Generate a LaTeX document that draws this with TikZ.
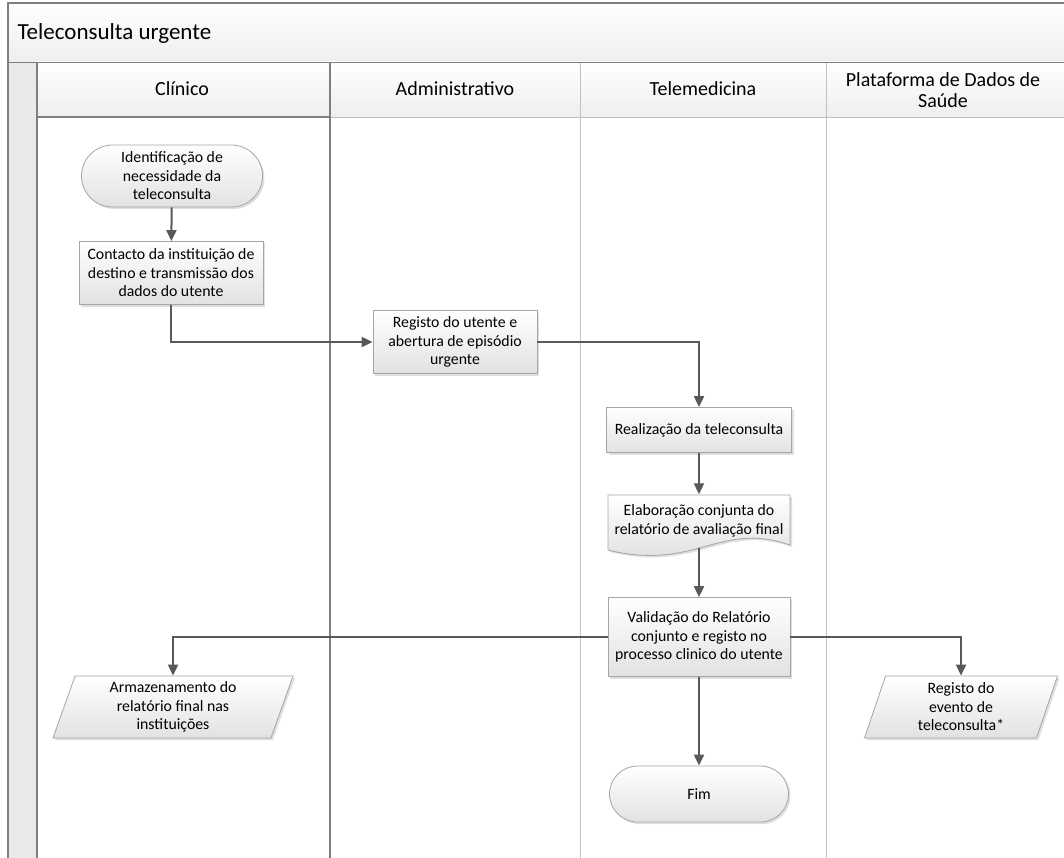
\documentclass[tikz,border=0pt]{standalone}
\usepackage{fontspec}
\setmainfont{Carlito}
\usetikzlibrary{shapes.geometric,shapes.misc,shadows,arrows.meta}

\definecolor{lanegray}{HTML}{7F7F7F}
\definecolor{lightlane}{HTML}{C0C0C0}
\definecolor{boxline}{HTML}{A5A5A5}
\definecolor{arrowgray}{HTML}{595959}
\definecolor{shadegray}{HTML}{E2E2E2}
\definecolor{stripgray}{HTML}{EAEAEA}

\newcommand{\flowfont}{\fontsize{15.8}{18.5}\selectfont}
\newcommand{\headfont}{\fontsize{20}{21}\selectfont}
\newcommand{\titlefont}{\fontsize{23}{26}\selectfont}

\tikzset{
  box/.style={draw=boxline, line width=0.8pt, top color=white, bottom color=shadegray,
    drop shadow={opacity=0.25, shadow xshift=2pt, shadow yshift=-2pt},
    align=center, font=\flowfont, inner sep=2pt},
  procbox/.style={box, rectangle},
  termbox/.style={box, rounded rectangle},
  iobox/.style={box, trapezium, trapezium left angle=68, trapezium right angle=112,
    trapezium stretches body},
  flow/.style={draw=arrowgray, line width=2pt, -{Triangle[length=11pt,width=10pt]}}
}

\begin{document}
\begin{tikzpicture}[x=1pt,y=-1pt]
\useasboundingbox (0,0) rectangle (1064,858);
\clip (0,0) rectangle (1064,858);

%% pool and lanes
\fill[white] (0,0) rectangle (1064,858);
\shade[top color=white, bottom color=stripgray!80] (8,3) rectangle (1070,62);
\shade[top color=white, bottom color=stripgray!80] (37,62) rectangle (1070,117);
\fill[stripgray] (8,62) rectangle (37,870);
\draw[lightlane] (37,117) -- (1070,117);
\draw[lightlane] (580,62) -- (580,870);
\draw[lightlane] (826,62) -- (826,870);
\draw[lanegray, line width=1.2pt] (8,3) rectangle (1070,870);
\draw[lanegray] (8,62) -- (1070,62);
\draw[lanegray, line width=1.2pt] (37,62) -- (37,870);
\draw[lanegray, line width=1.2pt] (330,62) -- (330,870);
\draw[lanegray, line width=1.2pt] (37,117) -- (330,117);

%% titles
\node[anchor=west, font=\titlefont] (pool) at (14,33) {Teleconsulta urgente};
\node[font=\headfont] (clin) at (182,89) {Clínico};
\node[font=\headfont] (admin) at (455,89) {Administrativo};
\node[font=\headfont] (tele) at (703,89) {Telemedicina};
\node[font=\headfont, align=center] (plat) at (943,90) {Plataforma de Dados de\\Saúde};

%% steps
\node[termbox, minimum width=185pt, minimum height=62pt] (ident) at (172,176)
  {Identificação de\\necessidade da\\teleconsulta};
\node[procbox, minimum width=184pt, minimum height=63pt] (contacto) at (171,273)
  {Contacto da instituição de\\destino e transmissão dos\\dados do utente};
\node[procbox, minimum width=164pt, minimum height=63pt] (registo) at (455,342)
  {Registo do utente e\\abertura de episódio\\urgente};
\node[procbox, minimum width=185pt, minimum height=45pt] (realiz) at (699,430)
  {Realização da teleconsulta};
\path[box] (608,495) -- (790,495) -- (790,545)
  .. controls (752,532) and (730,540) .. (699,548)
  .. controls (668,557) and (640,558) .. (608,550) -- cycle;
\node[align=center, font=\flowfont, minimum width=182pt, minimum height=53pt] (elab) at (699,521)
  {Elaboração conjunta do\\relatório de avaliação final};
\node[procbox, minimum width=182pt, minimum height=79pt] (valid) at (699,637)
  {Validação do Relatório\\conjunto e registo no\\processo clinico do utente};
\node[iobox, minimum width=240pt, minimum height=62pt] (armaz) at (173,707)
  {Armazenamento do\\relatório final nas\\instituições};
\node[iobox, minimum width=193pt, minimum height=62pt] (regev) at (961,707)
  {Registo do\\evento de\\teleconsulta*};
\node[termbox, minimum width=183pt, minimum height=56pt] (fim) at (699,794) {Fim};

%% connectors
\draw[flow] (ident) -- (contacto);
\draw[flow] (contacto.south) |- (registo.west);
\draw[flow] (registo.east) -| (realiz.north);
\draw[flow] (realiz) -- (elab);
\draw[flow] (elab.south) -- (valid.north);
\draw[flow] (valid.west) -| (armaz.north);
\draw[flow] (valid.east) -| (regev.north);
\draw[flow] (valid) -- (fim);
\end{tikzpicture}
\end{document}
